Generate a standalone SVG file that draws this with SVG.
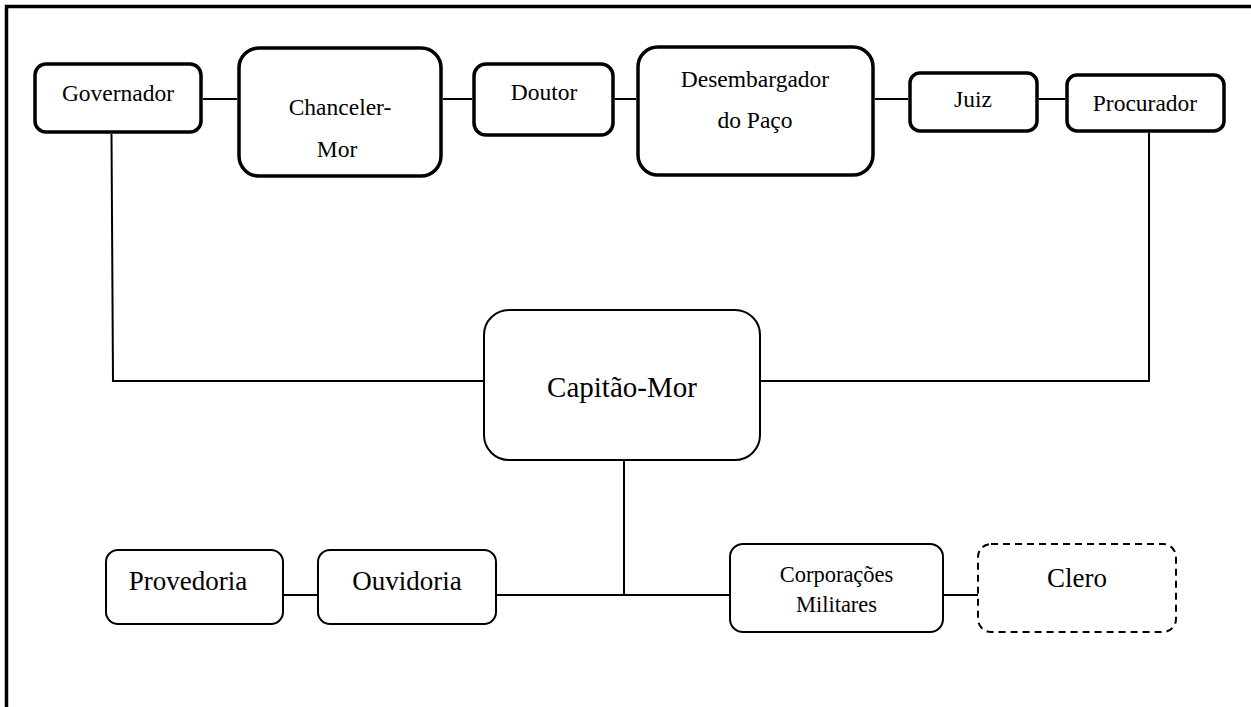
<svg xmlns="http://www.w3.org/2000/svg" width="1251" height="707" viewBox="0 0 1251 707">
<style>
.n{fill:#fff;stroke:#000}
.t{stroke-width:3.5}
.b{stroke-width:2}
.d{stroke-width:2;stroke-dasharray:7 5}
text{fill:#000;text-anchor:middle;font-family:"Liberation Serif","Times New Roman",serif}
.c{fill:none;stroke:#000;stroke-width:2}
</style>
<rect x="0" y="0" width="1251" height="707" fill="#fff"/>
<path d="M6.5 707 V6.5 H1251" fill="none" stroke="#000" stroke-width="3.5"/>
<g id="connectors">
<line class="c" x1="203" y1="99" x2="237" y2="99"/>
<line class="c" x1="443" y1="99" x2="472" y2="99"/>
<line class="c" x1="615" y1="99" x2="636" y2="99"/>
<line class="c" x1="875" y1="99" x2="908" y2="99"/>
<line class="c" x1="1039" y1="99" x2="1065" y2="99"/>
<polyline class="c" points="111.5,134 113,381 484,381"/>
<polyline class="c" points="1149,133 1149,381 760,381"/>
<line class="c" x1="624" y1="460" x2="624" y2="595"/>
<line class="c" x1="283" y1="595" x2="318" y2="595"/>
<line class="c" x1="496" y1="595" x2="730" y2="595"/>
<line class="c" x1="943" y1="595" x2="978" y2="595"/>
</g>
<g id="governador">
<rect class="n t" x="35" y="64" width="166" height="68" rx="11"/>
<text x="118" y="101" font-size="23.5">Governador</text>
</g>
<g id="chanceler-mor">
<rect class="n t" x="239" y="48" width="202" height="128" rx="20"/>
<text x="340" y="115" font-size="23.5">Chanceler-</text>
<text x="337" y="157" font-size="23.5">Mor</text>
</g>
<g id="doutor">
<rect class="n t" x="474" y="64" width="139" height="71" rx="12"/>
<text x="544" y="100" font-size="23.5">Doutor</text>
</g>
<g id="desembargador">
<rect class="n t" x="638" y="47" width="235" height="128" rx="20"/>
<text x="755" y="87" font-size="23.5">Desembargador</text>
<text x="755" y="128" font-size="23.5">do Paço</text>
</g>
<g id="juiz">
<rect class="n t" x="910" y="73" width="127" height="58" rx="10"/>
<text x="973" y="107" font-size="23.5">Juiz</text>
</g>
<g id="procurador">
<rect class="n t" x="1067" y="75" width="157" height="56" rx="10"/>
<text x="1145" y="111" font-size="23.5">Procurador</text>
</g>
<g id="capitao-mor">
<rect class="n b" x="484" y="310" width="276" height="150" rx="25"/>
<text x="622" y="397" font-size="29">Capitão-Mor</text>
</g>
<g id="provedoria">
<rect class="n b" x="106" y="550" width="177" height="74" rx="12"/>
<text x="188" y="590" font-size="27">Provedoria</text>
</g>
<g id="ouvidoria">
<rect class="n b" x="318" y="550" width="178" height="74" rx="12"/>
<text x="407" y="590" font-size="27">Ouvidoria</text>
</g>
<g id="corporacoes">
<rect class="n b" x="730" y="544" width="213" height="88" rx="13"/>
<text x="836.5" y="582" font-size="22.5">Corporações</text>
<text x="836.5" y="612" font-size="22.5">Militares</text>
</g>
<g id="clero">
<rect class="n d" x="978" y="544" width="198" height="88" rx="13"/>
<text x="1077" y="587" font-size="27">Clero</text>
</g>
</svg>
